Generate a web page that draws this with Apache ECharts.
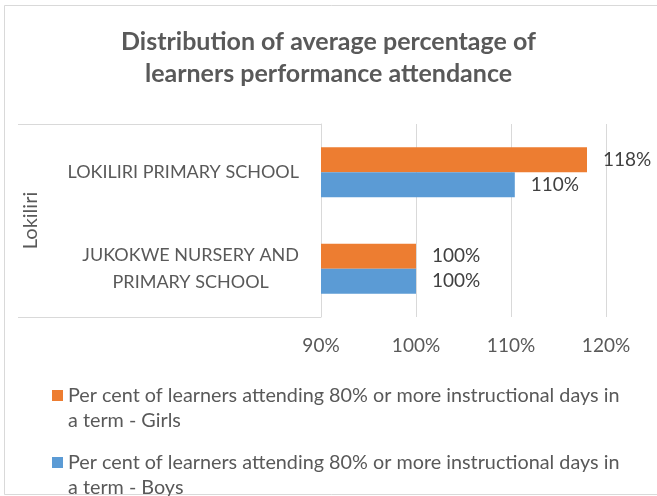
<!DOCTYPE html>
<html>
<head>
<meta charset="utf-8">
<script src="https://cdn.jsdelivr.net/npm/echarts@6/dist/echarts.min.js"></script>
<style>
  html, body { margin: 0; padding: 0; background: #fff; }
  #chart { width: 657px; height: 496px; }
</style>
</head>
<body>
<div id="chart"></div>
<script>
const FONT = 'Lato, "Open Sans", sans-serif';

const schools = ['LOKILIRI PRIMARY SCHOOL', 'JUKOKWE NURSERY AND\nPRIMARY SCHOOL'];
const groupLabel = 'Lokiliri';
const girls = [118.0, 100];
const boys = [110.4, 100];
const seriesNames = [
  'Per cent of learners attending 80% or more instructional days in a term - Girls',
  'Per cent of learners attending 80% or more instructional days in a term - Boys'
];

// plot box (the category "frame" hangs off its left edge, like Excel's multi-level axis)
const G = { left: 321, right: 51, top: 124, bottom: 179 };

const chart = echarts.init(document.getElementById('chart'), null, { renderer: 'canvas' });

const barLabel = {
  show: true,
  position: 'right',
  distance: 16,
  color: '#404040',
  fontSize: 19,
  fontFamily: FONT,
  formatter: (p) => Math.round(p.value) + '%'
};

chart.setOption({
  backgroundColor: '#fff',
  animation: false,
  title: {
    text: 'Distribution of average percentage of\nlearners performance attendance',
    left: 'center',
    top: 26,
    padding: [0, 0, 0, 14],
    textStyle: { color: '#595959', fontSize: 25, fontWeight: 'bold', fontFamily: FONT, lineHeight: 32 }
  },
  grid: G,
  xAxis: {
    type: 'value',
    min: 90,
    max: 120,
    interval: 10,
    axisLine: { show: false },
    axisTick: { show: false },
    axisLabel: { color: '#595959', fontSize: 19, fontFamily: FONT, margin: 19, formatter: '{value}%' },
    splitLine: { lineStyle: { color: '#D9D9D9', width: 1 } }
  },
  yAxis: {
    type: 'category',
    inverse: true,
    data: schools,
    name: groupLabel,
    nameLocation: 'middle',
    nameRotate: 90,
    nameGap: 280,
    nameTextStyle: { color: '#595959', fontSize: 20, fontFamily: FONT },
    axisLine: { lineStyle: { color: '#D9D9D9' } },
    axisTick: { show: false },
    axisLabel: {
      margin: 22,
      formatter: (v) => v.split('\n').map((s) => '{c|' + s + '}').join('\n'),
      rich: { c: { color: '#595959', fontSize: 18, fontFamily: FONT, align: 'center', lineHeight: 27 } }
    }
  },
  legend: {
    orient: 'vertical',
    left: 52,
    top: 358,
    height: 200,
    padding: 0,
    itemWidth: 11,
    itemHeight: 11,
    itemGap: -8,
    icon: 'rect',
    // leading blank line keeps the marker level with the first text line
    formatter: (n) => '\n' + n.replace(' a term', '\na term'),
    textStyle: { color: '#595959', fontSize: 19.8, fontFamily: FONT, lineHeight: 25 }
  },
  graphic: [
    { type: 'rect', silent: true, shape: { x: 4.5, y: 5.5, width: 700, height: 489 },
      style: { fill: 'none', stroke: '#D9D9D9', lineWidth: 1 } },
    { type: 'line', silent: true, shape: { x1: 18, y1: G.top + 0.5, x2: G.left, y2: G.top + 0.5 },
      style: { stroke: '#D9D9D9', lineWidth: 1 } },
    { type: 'line', silent: true, shape: { x1: 18, y1: 496 - G.bottom + 0.5, x2: G.left, y2: 496 - G.bottom + 0.5 },
      style: { stroke: '#D9D9D9', lineWidth: 1 } }
  ],
  series: [
    { name: seriesNames[0], type: 'bar', data: girls, barGap: 0, barCategoryGap: '48%',
      itemStyle: { color: '#ED7D31' }, label: barLabel },
    { name: seriesNames[1], type: 'bar', data: boys, barGap: 0, barCategoryGap: '48%',
      itemStyle: { color: '#5B9BD5' }, label: barLabel }
  ]
});
</script>
</body>
</html>
